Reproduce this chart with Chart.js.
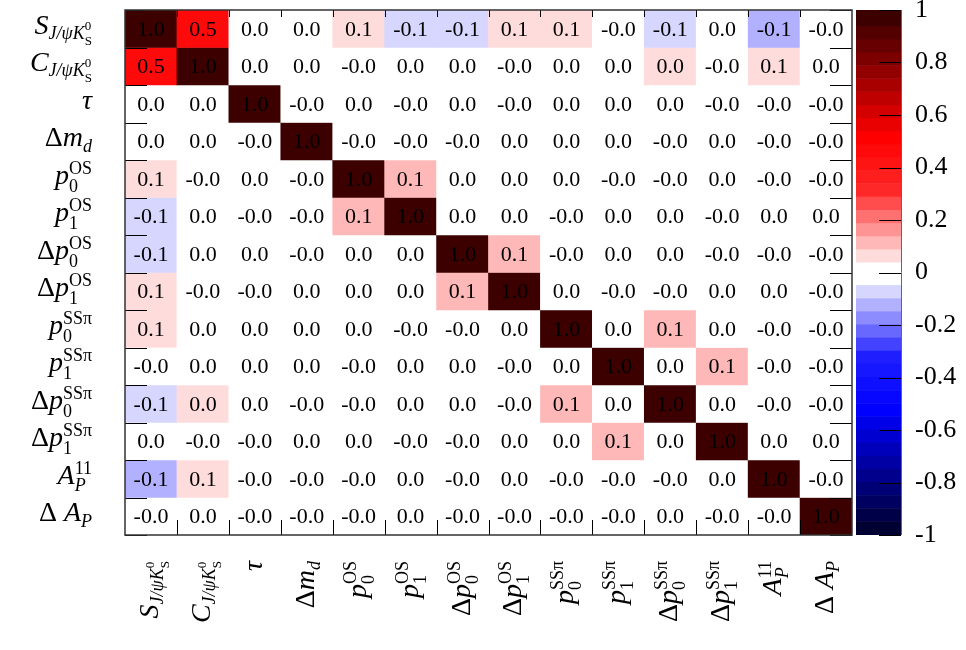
<!DOCTYPE html>
<html>
<head>
<meta charset="utf-8">
<script src="https://cdn.jsdelivr.net/npm/chart.js@4.4.1/dist/chart.umd.min.js"></script>
<style>
  html, body { margin: 0; padding: 0; background: #fff; }
  #wrap { width: 966px; height: 650px; }
</style>
</head>
<body>
<div id="wrap"><canvas id="corr" width="966" height="650"></canvas></div>
<script>
// fit parameters, rows top -> bottom and columns left -> right
const params = ['S_J/psiKS', 'C_J/psiKS', 'tau', 'dm_d', 'p0_OS', 'p1_OS', 'dp0_OS', 'dp1_OS',
                'p0_SSpi', 'p1_SSpi', 'dp0_SSpi', 'dp1_SSpi', 'A_P^11', 'dA_P'];

// correlation matrix, one row per parameter
const rowS    = [1.0, 0.48, 0.01, 0.01, 0.07, -0.07, -0.07, 0.07, 0.07, -0.01, -0.07, 0.01, -0.12, -0.01];
const rowC    = [0.48, 1.0, 0.01, 0.01, -0.01, 0.01, 0.01, -0.01, 0.01, 0.01, 0.045, -0.01, 0.07, 0.01];
const rowTau  = [0.01, 0.01, 1.0, -0.01, 0.01, -0.01, 0.01, -0.01, 0.01, 0.01, 0.01, -0.01, -0.01, -0.01];
const rowDm   = [0.01, 0.01, -0.01, 1.0, -0.01, -0.01, -0.01, 0.01, 0.01, 0.01, -0.01, 0.01, -0.01, -0.01];
const rowP0os = [0.07, -0.01, 0.01, -0.01, 1.0, 0.11, 0.01, 0.01, 0.01, -0.01, -0.01, 0.01, -0.01, -0.01];
const rowP1os = [-0.07, 0.01, -0.01, -0.01, 0.11, 1.0, 0.01, 0.01, -0.01, 0.01, 0.01, -0.01, 0.01, 0.01];
const rowDp0os = [-0.07, 0.01, 0.01, -0.01, 0.01, 0.01, 1.0, 0.11, -0.01, 0.01, 0.01, -0.01, -0.01, -0.01];
const rowDp1os = [0.07, -0.01, -0.01, 0.01, 0.01, 0.01, 0.11, 1.0, 0.01, -0.01, -0.01, 0.01, 0.01, -0.01];
const rowP0ss = [0.07, 0.01, 0.01, 0.01, 0.01, -0.01, -0.01, 0.01, 1.0, 0.01, 0.11, 0.01, -0.01, -0.01];
const rowP1ss = [-0.01, 0.01, 0.01, 0.01, -0.01, 0.01, 0.01, -0.01, 0.01, 1.0, 0.01, 0.11, -0.01, -0.01];
const rowDp0ss = [-0.07, 0.045, 0.01, -0.01, -0.01, 0.01, 0.01, -0.01, 0.11, 0.01, 1.0, 0.01, -0.01, -0.01];
const rowDp1ss = [0.01, -0.01, -0.01, 0.01, 0.01, -0.01, -0.01, 0.01, 0.01, 0.11, 0.01, 1.0, 0.01, 0.01];
const rowAp   = [-0.12, 0.07, -0.01, -0.01, -0.01, 0.01, -0.01, 0.01, -0.01, -0.01, -0.01, 0.01, 1.0, -0.01];
const rowDAp  = [-0.01, 0.01, -0.01, -0.01, -0.01, 0.01, -0.01, -0.01, -0.01, -0.01, 0.01, -0.01, -0.01, 1.0];

const corr = [rowS, rowC, rowTau, rowDm, rowP0os, rowP1os, rowDp0os, rowDp1os,
              rowP0ss, rowP1ss, rowDp0ss, rowDp1ss, rowAp, rowDAp];

// colour bar tick labels
const cbarTicks = [1, 0.8, 0.6, 0.4, 0.2, 0, -0.2, -0.4, -0.6, -0.8, -1];

// math-style labels: main text, sub/superscripts (dy = baseline shift)
const SZ = { m: 28, s: 18, ss: 13 };
const sup = (t, t2, it2) => ({ stack: [{ t: t, dy: -10 }, { t: t2, dy: 8, it: it2 }], sz: 's' });
const kshort = [{ t: 'J/ψK', it: true, sz: 's', dy: 5 }, { stack: [{ t: '0', dy: -4 }, { t: 'S', dy: 11 }], sz: 'ss' }];
const richLabels = [
  [{ t: 'S', it: true }, ...kshort],
  [{ t: 'C', it: true }, ...kshort],
  [{ t: 'τ', it: true }],
  [{ t: 'Δ' }, { t: 'm', it: true }, { t: 'd', it: true, sz: 's', dy: 6 }],
  [{ t: 'p', it: true }, sup('OS', '0')],
  [{ t: 'p', it: true }, sup('OS', '1')],
  [{ t: 'Δ' }, { t: 'p', it: true }, sup('OS', '0')],
  [{ t: 'Δ' }, { t: 'p', it: true }, sup('OS', '1')],
  [{ t: 'p', it: true }, sup('SSπ', '0')],
  [{ t: 'p', it: true }, sup('SSπ', '1')],
  [{ t: 'Δ' }, { t: 'p', it: true }, sup('SSπ', '0')],
  [{ t: 'Δ' }, { t: 'p', it: true }, sup('SSπ', '1')],
  [{ t: 'A', it: true }, { stack: [{ t: '11', dy: -10 }, { t: 'P', dy: 7, it: true }], sz: 's' }],
  [{ t: 'Δ ' }, { t: 'A', it: true }, { t: 'P', it: true, sz: 's', dy: 6 }]
];

// discrete palette like the ROOT colour bar
function bandOf(v) {
  if (v >= 0) return Math.min(19, Math.floor((v + 0.01) / 0.05));
  return -Math.min(19, Math.floor(-v / 0.05));
}
function bandColor(b) {
  if (b === 0) return 'rgb(255,255,255)';
  const a = Math.abs(b) * 0.05;
  if (b > 0) {
    const lt = a <= 0.3 ? 220 - (a - 0.05) / 0.25 * 180 : a <= 0.5 ? 40 - (a - 0.3) / 0.2 * 40 : 0;
    const dk = a <= 0.5 ? 255 : 255 - (a - 0.5) / 0.45 * 195;
    return `rgb(${Math.round(dk)},${Math.round(lt)},${Math.round(lt)})`;
  }
  const lt = a <= 0.3 ? 214 - (a - 0.05) / 0.25 * 184 : a <= 0.5 ? 30 - (a - 0.3) / 0.2 * 30 : 0;
  const dk = a <= 0.5 ? 255 : 255 - (a - 0.5) / 0.45 * 205;
  return `rgb(${Math.round(lt)},${Math.round(lt)},${Math.round(dk)})`;
}
const colorFor = v => bandColor(bandOf(v));

const FONT = '"Liberation Serif", "Times New Roman", serif';
const fontOf = (it, px) => (it ? 'italic ' : '') + px + 'px ' + FONT;

function segWidth(ctx, s) {
  const px = SZ[s.sz || 'm'];
  const parts = s.stack || [s];
  return Math.max(...parts.map(p => { ctx.font = fontOf(p.it, px); return ctx.measureText(p.t).width; }));
}

// right-aligned rich text ending at xEnd
function drawRich(ctx, segs, xEnd, y) {
  const total = segs.reduce((a, s) => a + segWidth(ctx, s), 0);
  let x = xEnd - total;
  ctx.textAlign = 'left';
  ctx.textBaseline = 'alphabetic';
  segs.forEach(s => {
    const px = SZ[s.sz || 'm'];
    const w = segWidth(ctx, s);
    (s.stack || [s]).forEach(p => {
      ctx.font = fontOf(p.it, px);
      ctx.fillText(p.t, x, y + (p.dy || 0));
    });
    x += w;
  });
}

const matrixDecor = {
  id: 'matrixDecor',
  afterDatasetsDraw(chart) {
    const { ctx, chartArea: area, scales: { x, y } } = chart;
    ctx.save();

    // numbers in the cells
    ctx.fillStyle = '#000';
    ctx.font = '22px ' + FONT;
    ctx.textAlign = 'center';
    ctx.textBaseline = 'alphabetic';
    corr.forEach((row, r) => row.forEach((v, c) => {
      ctx.fillText(v.toFixed(1), x.getPixelForValue(c), y.getPixelForValue(r + 0.5) + 7);
    }));

    // tick marks at cell borders
    ctx.strokeStyle = '#000';
    ctx.lineWidth = 1;
    ctx.beginPath();
    for (let c = 1; c < params.length; c++) {
      const px = Math.round((x.getPixelForValue(c - 1) + x.getPixelForValue(c)) / 2) + 0.5;
      ctx.moveTo(px, area.top); ctx.lineTo(px, area.top + 7);
      ctx.moveTo(px, area.bottom); ctx.lineTo(px, area.bottom - 15);
    }
    for (let r = 0; r <= params.length; r++) {
      const py = Math.round(y.getPixelForValue(r)) + 0.5;
      ctx.moveTo(area.left, py); ctx.lineTo(area.left + 22, py);
      ctx.moveTo(area.right, py); ctx.lineTo(area.right - 22, py);
    }
    ctx.stroke();

    // frame
    ctx.strokeStyle = '#333';
    ctx.lineWidth = 1.5;
    ctx.strokeRect(area.left, area.top, area.right - area.left, area.bottom - area.top);
    ctx.restore();
  },
  afterDraw(chart) {
    const { ctx, chartArea: area, scales: { x, y, cb } } = chart;
    ctx.save();
    ctx.fillStyle = '#000';

    // row labels
    richLabels.forEach((segs, r) => {
      drawRich(ctx, segs, area.left - 33, y.getPixelForValue(r + 0.5) + 5);
    });
    // column labels, rotated
    richLabels.forEach((segs, c) => {
      ctx.save();
      ctx.translate(x.getPixelForValue(c) + 7, area.bottom + 26);
      ctx.rotate(-Math.PI / 2);
      drawRich(ctx, segs, 0, 0);
      ctx.restore();
    });

    // colour bar
    const cbL = area.right + 4, cbR = area.right + 49;
    ctx.fillStyle = bandColor(0);
    ctx.fillRect(cbL, cb.getPixelForValue(1), cbR - cbL, cb.getPixelForValue(-1) - cb.getPixelForValue(1));
    for (let b = 1; b <= 19; b++) {
      const lo = 0.05 * b - 0.01, hi = b === 19 ? 1 : 0.05 * b + 0.04;
      const top = cb.getPixelForValue(hi), bot = cb.getPixelForValue(lo);
      ctx.fillStyle = bandColor(b);
      ctx.fillRect(cbL, top, cbR - cbL, bot - top + 0.5);
      const nlo = b === 19 ? -1 : -0.05 * b - 0.05, nhi = -0.05 * b;
      const ntop = cb.getPixelForValue(nhi), nbot = cb.getPixelForValue(nlo);
      ctx.fillStyle = bandColor(-b);
      ctx.fillRect(cbL, ntop - 0.5, cbR - cbL, nbot - ntop + 0.5);
    }
    ctx.strokeStyle = '#666';
    ctx.lineWidth = 1;
    ctx.beginPath();
    ctx.moveTo(cbR + 0.5, cb.getPixelForValue(1));
    ctx.lineTo(cbR + 0.5, cb.getPixelForValue(-1));
    ctx.stroke();
    ctx.strokeStyle = '#000';
    ctx.beginPath();
    cbarTicks.forEach(v => {
      const py = Math.round(cb.getPixelForValue(v)) + 0.5;
      ctx.moveTo(cbR - 22, py); ctx.lineTo(cbR, py);
    });
    ctx.stroke();
    ctx.restore();
  }
};

new Chart(document.getElementById('corr'), {
  type: 'bar',
  data: {
    labels: params,
    datasets: corr.map((row, r) => ({
      label: params[r],
      data: row.map(() => [r, r + 1]),
      backgroundColor: row.map(colorFor),
      borderWidth: 0,
      grouped: false,
      barPercentage: 1,
      categoryPercentage: 1,
      xAxisID: 'x',
      yAxisID: 'y'
    }))
  },
  options: {
    responsive: false,
    animation: false,
    layout: { padding: { left: 125, top: 10, bottom: 115, right: 0 } },
    plugins: {
      legend: { display: false },
      tooltip: { enabled: false }
    },
    scales: {
      x: { display: false, offset: true },
      y: { display: false, min: 0, max: 14, reverse: true },
      cb: {
        position: 'right',
        min: -1,
        max: 1,
        afterBuildTicks: s => { s.ticks = cbarTicks.map(v => ({ value: v })); },
        afterFit: s => { s.width = 114; s.paddingTop = 0; s.paddingBottom = 0; },
        ticks: {
          padding: 63,
          color: '#000',
          font: { family: 'Liberation Serif', size: 26 },
          callback: v => String(v)
        },
        grid: { drawOnChartArea: false, drawTicks: false },
        border: { display: false }
      }
    }
  },
  plugins: [matrixDecor]
});
</script>
</body>
</html>
